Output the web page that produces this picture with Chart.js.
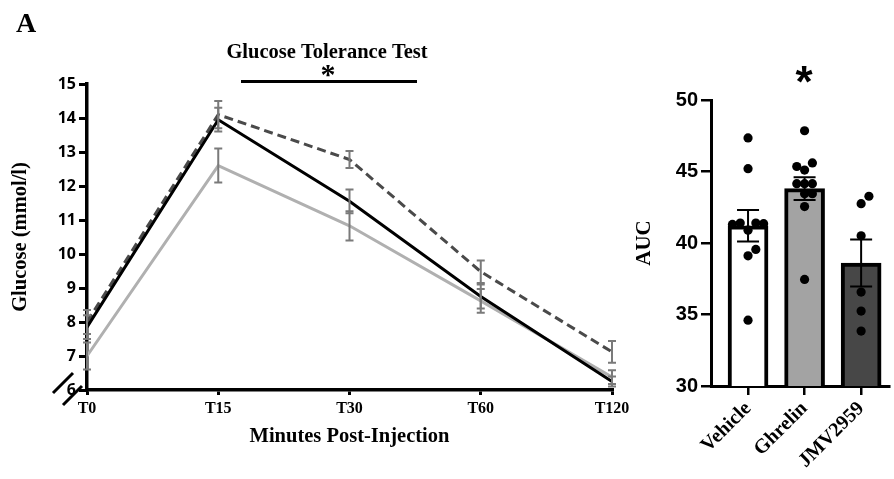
<!DOCTYPE html>
<html><head><meta charset="utf-8">
<script src="https://cdn.jsdelivr.net/npm/chart.js@4.4.1/dist/chart.umd.min.js"></script>
<style>
html,body{margin:0;padding:0;background:#fff;width:894px;height:479px;overflow:hidden}
#left{position:absolute;left:0;top:0}
#right{position:absolute;left:628px;top:0}
</style></head><body>
<canvas id="left" width="650" height="479"></canvas>
<canvas id="right" width="266" height="479"></canvas>
<script>
// ---------- data: glucose tolerance test ----------
const timePoints = ['T0', 'T15', 'T30', 'T60', 'T120'];
const glucoseMin = 6, glucoseMax = 15, glucoseStep = 1;
const vehicleGlucose    = [7.85, 13.95, 11.55, 8.75, 6.25];
const vehicleGlucoseSem = [0.35, 0.35, 0.35, 0.35, 0.15];
const ghrelinGlucose    = [8.0, 14.1, 12.78, 9.48, 7.12];
const ghrelinGlucoseSem = [0.35, 0.4, 0.25, 0.33, 0.32];
const jmvGlucose        = [7.0, 12.6, 10.83, 8.62, 6.38];
const jmvGlucoseSem     = [0.4, 0.5, 0.43, 0.35, 0.2];

// ---------- data: AUC ----------
const groups = ['Vehicle', 'Ghrelin', 'JMV2959'];
const aucMin = 30, aucMax = 50, aucStep = 5;
const aucMeans = [41.2, 43.8, 38.6];
const aucSem = [1.1, 0.8, 1.65];
const vehicleAuc = [47.35, 45.2, 40.9, 41.4, 41.4, 41.35, 41.3, 39.1, 39.55, 34.6];
const ghrelinAuc = [47.85, 45.1, 45.6, 45.35, 44.15, 44.15, 44.15, 43.45, 43.45, 42.55, 37.45];
const jmvAuc = [42.75, 43.27, 40.5, 36.57, 35.24, 33.84];

const SERIF = '"Liberation Serif", "Times New Roman", serif';
const SANS = '"Liberation Sans", Arial, sans-serif';
Chart.defaults.color = '#000';

function drawCentered(ctx, text, cx, cy) {
  ctx.textAlign = 'left';
  ctx.textBaseline = 'alphabetic';
  const m = ctx.measureText(text);
  const base = cy + (m.actualBoundingBoxAscent - m.actualBoundingBoxDescent) / 2;
  const left = cx - (m.actualBoundingBoxRight + m.actualBoundingBoxLeft) / 2 + m.actualBoundingBoxLeft;
  ctx.fillText(text, left, base);
}

const errorBarPlugin = {
  id: 'errorBars',
  afterDatasetsDraw(chart) {
    const ctx = chart.ctx, ys = chart.scales.y;
    chart.data.datasets.forEach((ds, di) => {
      if (!ds.errors) return;
      const meta = chart.getDatasetMeta(di);
      ctx.save();
      ctx.strokeStyle = ds.errorColor;
      ctx.lineWidth = ds.errorWidth;
      meta.data.forEach((el, i) => {
        const d = ds.data[i];
        const v = (typeof d === 'object') ? d.y : d;
        const e = ds.errors[i];
        const x = el.x;
        const yTop = ys.getPixelForValue(v + e);
        const yBot = ys.getPixelForValue(v - e);
        const cap = ds.errorCap;
        ctx.beginPath();
        ctx.moveTo(x, yTop); ctx.lineTo(x, yBot);
        ctx.moveTo(x - cap, yTop); ctx.lineTo(x + cap, yTop);
        ctx.moveTo(x - cap, yBot); ctx.lineTo(x + cap, yBot);
        ctx.stroke();
      });
      ctx.restore();
    });
  }
};

const leftDecor = {
  id: 'leftDecor',
  afterDraw(chart) {
    const ctx = chart.ctx, a = chart.chartArea;
    ctx.save();
    ctx.fillStyle = '#000';
    ctx.font = 'bold 28px ' + SERIF;
    ctx.textAlign = 'center'; ctx.textBaseline = 'alphabetic';
    ctx.fillText('A', 26, 32);
    ctx.font = 'bold 20.5px ' + SERIF;
    ctx.fillText('Glucose Tolerance Test', 327, 58);
    ctx.font = 'bold 30px ' + SERIF;
    drawCentered(ctx, '*', 328, 71);
    ctx.strokeStyle = '#000';
    ctx.lineWidth = 3;
    ctx.beginPath(); ctx.moveTo(241, 81.5); ctx.lineTo(417, 81.5); ctx.stroke();
    // axis break marks
    const L = a.left, B = a.bottom;
    ctx.lineWidth = 3;
    ctx.beginPath();
    ctx.moveTo(L - 34, B + 3); ctx.lineTo(L - 14, B - 17);
    ctx.moveTo(L - 24, B + 15); ctx.lineTo(L - 5, B - 4);
    ctx.stroke();
    ctx.restore();
  }
};

const leftChart = new Chart(document.getElementById('left'), {
  type: 'line',
  data: {
    labels: timePoints,
    datasets: [
      { label: 'Vehicle', data: vehicleGlucose, errors: vehicleGlucoseSem,
        borderColor: '#000', borderWidth: 3, pointRadius: 0, tension: 0,
        errorColor: '#7a7a7a', errorWidth: 2, errorCap: 4 },
      { label: 'Ghrelin', data: ghrelinGlucose, errors: ghrelinGlucoseSem,
        borderColor: '#4a4a4a', borderWidth: 3, borderDash: [9, 5], pointRadius: 0, tension: 0,
        errorColor: '#7a7a7a', errorWidth: 2, errorCap: 4 },
      { label: 'JMV2959', data: jmvGlucose, errors: jmvGlucoseSem,
        borderColor: '#b0b0b0', borderWidth: 3, pointRadius: 0, tension: 0,
        errorColor: '#7a7a7a', errorWidth: 2, errorCap: 4 }
    ]
  },
  options: {
    responsive: false, animation: false, events: [],
    layout: { padding: { left: 0, top: 84, right: 38, bottom: 0 } },
    plugins: { legend: { display: false }, tooltip: { enabled: false } },
    scales: {
      x: {
        offset: false,
        grid: { display: true, drawOnChartArea: false, drawTicks: true, tickLength: 5, lineWidth: 3, color: '#000' },
        border: { display: true, width: 3.5, color: '#000' },
        ticks: { font: { family: SERIF, size: 16, weight: 'bold' }, padding: 4, maxRotation: 0 },
        title: { display: true, text: 'Minutes Post-Injection', font: { family: SERIF, size: 20.5, weight: 'bold' }, padding: { top: 0, bottom: 30 } },
        afterFit(s) { s.height = 89; }
      },
      y: {
        min: glucoseMin, max: glucoseMax,
        grid: { display: true, drawOnChartArea: false, drawTicks: true, tickLength: 8, lineWidth: 3, color: '#000' },
        border: { display: true, width: 3.5, color: '#000' },
        ticks: { stepSize: glucoseStep, font: { family: '"Open Sans", sans-serif', size: 16, weight: 'bold' }, padding: 3 },
        title: { display: true, text: 'Glucose (mmol/l)', font: { family: SERIF, size: 20.5, weight: 'bold' }, padding: { top: 8, bottom: 0 } },
        afterFit(s) { s.width = 87; }
      }
    }
  },
  plugins: [errorBarPlugin, leftDecor]
});

const rightDecor = {
  id: 'rightDecor',
  afterDraw(chart) {
    const ctx = chart.ctx;
    const x = chart.scales.x.getPixelForValue(1);
    ctx.save();
    ctx.fillStyle = '#000';
    ctx.font = 'bold 44px ' + SANS;
    drawCentered(ctx, '*', x, 74);
    ctx.restore();
  }
};

const rightChart = new Chart(document.getElementById('right'), {
  type: 'bar',
  data: {
    datasets: [
      { type: 'bar', data: aucMeans.map((m, i) => ({ x: i, y: m })), errors: aucSem,
        backgroundColor: ['#ffffff', '#a3a3a3', '#474747'], borderColor: '#000', borderWidth: 4,
        borderSkipped: false, barThickness: 40, order: 2,
        errorColor: '#000', errorWidth: 2, errorCap: 11 },
      { type: 'scatter', data: [], pointRadius: 4.6, pointBackgroundColor: '#000', pointBorderWidth: 0, order: 1 }
    ]
  },
  options: {
    responsive: false, animation: false, events: [],
    layout: { padding: { left: 0, top: 100, right: 0, bottom: 0 } },
    plugins: { legend: { display: false }, tooltip: { enabled: false } },
    scales: {
      x: {
        type: 'linear', min: -0.655, max: 2.5, offset: false,
        afterBuildTicks(axis) { axis.ticks = groups.map((g, i) => ({ value: i })); },
        grid: { display: true, offset: false, drawOnChartArea: false, drawTicks: true, tickLength: 9, lineWidth: 2.5, color: '#000' },
        border: { display: true, width: 3, color: '#000' },
        ticks: { autoSkip: false, minRotation: 45, maxRotation: 45, padding: 2,
          font: { family: SERIF, size: 20, weight: 'bold' },
          callback: (v) => groups[v] ?? '' },
        afterFit(s) { s.height = 93; }
      },
      y: {
        min: aucMin, max: aucMax,
        grid: { display: true, drawOnChartArea: false, drawTicks: true, tickLength: 10, lineWidth: 2.5, color: '#000' },
        border: { display: true, width: 3, color: '#000' },
        ticks: { stepSize: aucStep, font: { family: SANS, size: 20, weight: 'bold' }, padding: 3 },
        title: { display: true, text: 'AUC', font: { family: SERIF, size: 21, weight: 'bold' }, padding: { top: 4, bottom: 0 } },
        afterFit(s) { s.width = 83; }
      }
    }
  },
  plugins: [errorBarPlugin, rightDecor]
});

// beeswarm placement of individual points using the chart's scales
function swarm(chart, values, catIndex) {
  const xs = chart.scales.x, ys = chart.scales.y;
  const unit = xs.getPixelForValue(1) - xs.getPixelForValue(0);
  const STEP = 8, MIN = 8;
  const placed = [];
  return values.map(v => {
    const py = ys.getPixelForValue(v);
    for (let k = 0; k < 40; k++) {
      const off = k === 0 ? 0 : (k % 2 ? 1 : -1) * Math.ceil(k / 2) * STEP;
      if (placed.every(p => Math.hypot(p[0] - off, p[1] - py) >= MIN)) {
        placed.push([off, py]);
        return { x: catIndex + off / unit, y: v };
      }
    }
    return { x: catIndex, y: v };
  });
}
rightChart.data.datasets[1].data = [
  ...swarm(rightChart, vehicleAuc, 0),
  ...swarm(rightChart, ghrelinAuc, 1),
  ...swarm(rightChart, jmvAuc, 2)
];
rightChart.update('none');
</script>
</body></html>
